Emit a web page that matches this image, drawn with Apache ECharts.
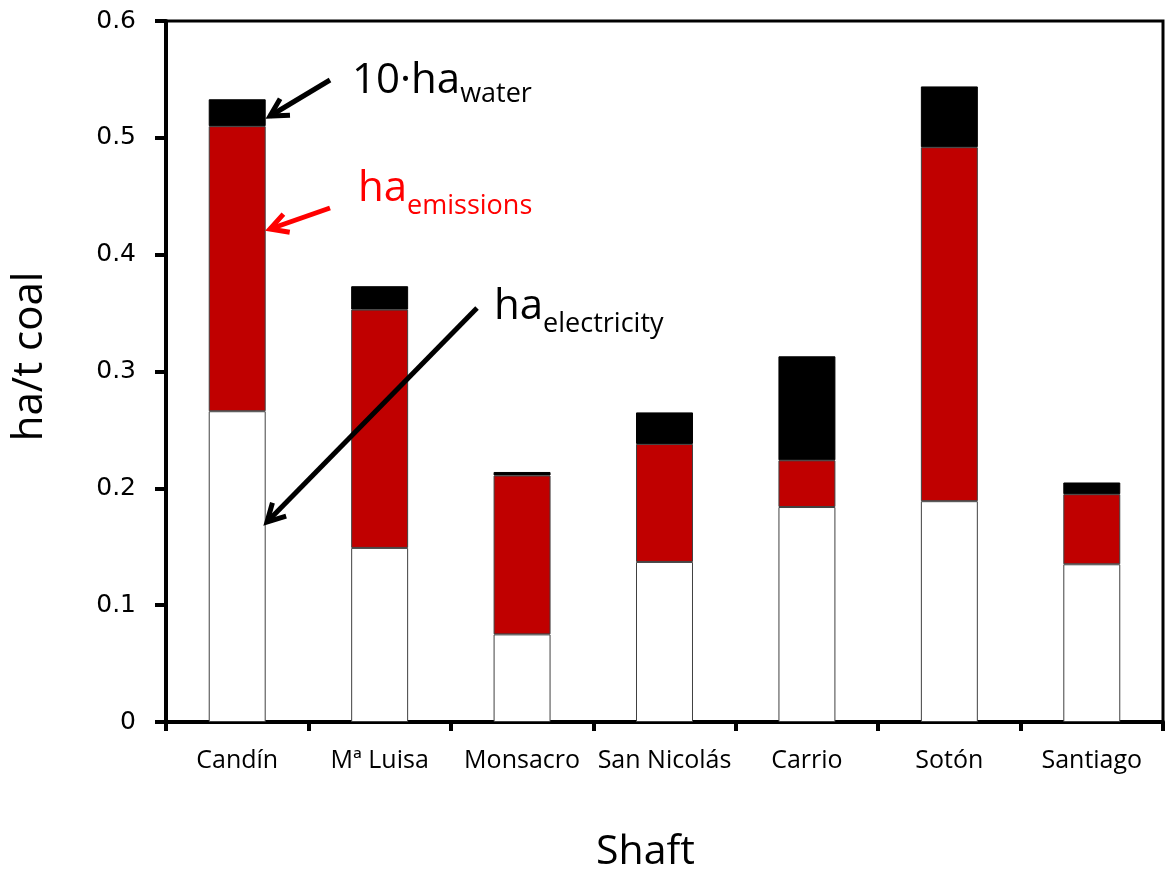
<!DOCTYPE html>
<html>
<head>
<meta charset="utf-8">
<script src="https://cdn.jsdelivr.net/npm/echarts@6/dist/echarts.min.js"></script>
<style>html,body{margin:0;padding:0;background:#fff;}#c{width:1169px;height:878px;}</style>
</head>
<body>
<div id="c"></div>
<script>
const categories = ['Candín', 'Mª Luisa', 'Monsacro', 'San Nicolás', 'Carrio', 'Sotón', 'Santiago'];
const haElectricity = [0.266, 0.149, 0.075, 0.137, 0.184, 0.189, 0.135];
const haEmissions   = [0.244, 0.204, 0.136, 0.101, 0.040, 0.303, 0.060];
const haWater10     = [0.023, 0.020, 0.003, 0.027, 0.089, 0.052, 0.010];
const yTicks = [0, 0.1, 0.2, 0.3, 0.4, 0.5, 0.6];

const chart = echarts.init(document.getElementById('c'), null, {renderer: 'canvas'});

function arrow(x1, y1, x2, y2, color) {
  const ang = Math.atan2(y2 - y1, x2 - x1);
  const L = 20, a = 0.5;
  const p1 = [x2 - L * Math.cos(ang - a), y2 - L * Math.sin(ang - a)];
  const p2 = [x2 - L * Math.cos(ang + a), y2 - L * Math.sin(ang + a)];
  return [
    {type: 'polyline', shape: {points: [[x1, y1], [x2, y2]]}, style: {stroke: color, lineWidth: 5, fill: null}, z: 100},
    {type: 'polyline', shape: {points: [p1, [x2, y2], p2]}, style: {stroke: color, lineWidth: 5, fill: null, lineJoin: 'miter'}, z: 100}
  ];
}
function label(x, y, main, sub, color, pad) {
  return {
    type: 'text', z: 100,
    style: {
      x: x, y: y,
      text: '{m|' + main + '}{s|' + sub + '}',
      align: 'left', verticalAlign: 'middle',
      fill: color,
      rich: {
        m: {fontSize: 42, fontFamily: 'Open Sans', fill: color, verticalAlign: 'bottom', padding: [0, 0, pad, 0]},
        s: {fontSize: 27, fontFamily: 'Open Sans', fill: color, verticalAlign: 'bottom'}
      }
    }
  };
}

const barBorder = {borderColor: '#404040', borderWidth: 1};
chart.setOption({
  animation: false,
  backgroundColor: '#fff',
  grid: {left: 166, right: 6, top: 21, bottom: 156, show: true, borderColor: '#000', borderWidth: 3, backgroundColor: 'transparent'},
  xAxis: {
    type: 'category', data: categories,
    name: 'Shaft', nameLocation: 'middle', nameGap: 110,
    nameTextStyle: {fontSize: 41, fontFamily: 'Open Sans', color: '#000', padding: [0, 38, 0, 0]},
    axisLine: {lineStyle: {color: '#000', width: 4}},
    axisTick: {show: true, inside: false, length: 9, lineStyle: {color: '#000', width: 4}, alignWithLabel: false},
    axisLabel: {fontSize: 25, fontFamily: 'Open Sans', color: '#000', margin: 26, interval: 0},
    splitLine: {show: false}
  },
  yAxis: {
    type: 'value', min: 0, max: 0.6, interval: 0.1,
    name: 'ha/t coal', nameLocation: 'middle', nameGap: 115, nameRotate: 90,
    nameTextStyle: {fontSize: 42, fontFamily: 'Open Sans', color: '#000', padding: [0, 0, 0, 30]},
    axisLine: {show: true, lineStyle: {color: '#000', width: 4}},
    axisTick: {show: true, inside: false, length: 11, lineStyle: {color: '#000', width: 4}},
    axisLabel: {fontSize: 25, fontFamily: 'DejaVu Sans', color: '#000', margin: 30,
      formatter: v => { const t = yTicks.find(k => Math.abs(k - v) < 1e-9); return t === 0 ? '0' : String(t); }},
    splitLine: {show: false}
  },
  series: [
    {name: 'ha electricity', type: 'bar', stack: 's', barWidth: '40%', data: haElectricity,
     itemStyle: Object.assign({color: '#ffffff'}, barBorder)},
    {name: 'ha emissions', type: 'bar', stack: 's', data: haEmissions,
     itemStyle: Object.assign({color: '#C00000'}, barBorder)},
    {name: '10·ha water', type: 'bar', stack: 's', data: haWater10,
     itemStyle: {color: '#000000', borderColor: '#000', borderWidth: 1}}
  ],
  graphic: [
    ...arrow(330, 80, 270, 116, '#000'),
    ...arrow(330, 208, 270, 229, '#ff0000'),
    ...arrow(477, 308, 267, 522, '#000'),
    label(352, 84, '10·ha', 'water', '#000', 6),
    label(358, 194, 'ha', 'emissions', '#ff0000', 10),
    label(494, 312, 'ha', 'electricity', '#000', 9)
  ]
});
</script>
</body>
</html>
